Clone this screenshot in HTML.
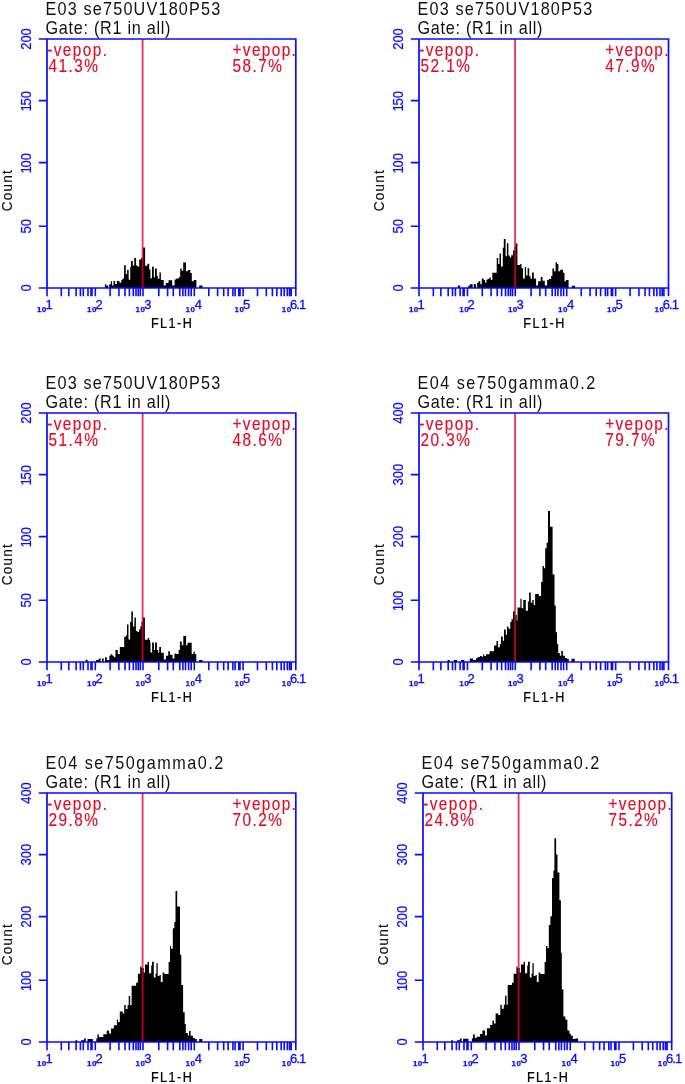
<!DOCTYPE html>
<html><head><meta charset="utf-8"><title>FL1-H histograms</title>
<style>
html,body{margin:0;padding:0;background:#fff;width:685px;height:1084px;overflow:hidden}
svg{display:block}
text{font-family:'Liberation Sans', sans-serif}
.t{font-size:18px;fill:#111}
.r{font-size:17.5px;fill:#e00a2a;stroke:#e00a2a;stroke-width:0.15px}
.yl{font-size:14px;fill:#0a0aff;stroke:#0a0aff;stroke-width:0.2px}
.xs{font-size:8px;font-weight:bold;fill:#0a0aff;stroke:#0a0aff;stroke-width:0.25px;letter-spacing:0.5px}
.xe{font-size:13px;fill:#0a0aff;stroke:#0a0aff;stroke-width:0.3px}
.xt{font-size:14px;fill:#000;stroke:#000;stroke-width:0.25px}
.ct{font-size:15px;fill:#111;stroke:#111;stroke-width:0.15px}
</style></head>
<body>
<svg width="685" height="1084" viewBox="0 0 685 1084">
<rect width="685" height="1084" fill="#fff"/>
<text transform="translate(45.5,14.9) scale(0.9,1)" class="t" letter-spacing="1.32">E03 se750UV180P53</text>
<text transform="translate(45.5,33.7) scale(0.9,1)" class="t" letter-spacing="0.81">Gate: (R1 in all)</text>
<path d="M104.9,288V284.3H106.2V285.5H108.2V288ZM109.2,288V284.3H110.8V281.3H112.1V285.4H113.6V281H115.1V284.1H116.9V281H119.5V282.8H121.3V280H122.5V278.5H124.1V265.2H125.8V274.1H127.1V269.8H128.7V279.7H130.2V267.1H131V261H132.8V265.5H134.3V258.1H136.1V265.5H137.4V266.6H139.2V259.4H141V257.9H143V247.4H145.1V265.8H147.4V263.8H149.2V269.6H150.4V278.3H152V266.8H153.8V277.3H155V268.4H156.8V275.8H157.8V278.8H159.4V272.4H160.9V279.9H163.7V285.6H165.8V283.1H168.5V280.3H172.2V285.6H174.6V279.4H176.2V278.5H178.9V277H180.2V268.4H181.7V270.8H183.2V262.6H186V271.2H187.8V269.9H190.3V273H191.8V281.3H193.7V280H196.4V288ZM199.2,288V285.6H202.5V288Z" fill="#000"/>
<line x1="142.6" y1="39" x2="142.6" y2="288.0" stroke="#eb0028" stroke-opacity="0.78" stroke-width="1.9"/>
<path d="M47,39H295.8V288.0H47Z" fill="none" stroke="#0a0aff" stroke-width="1.7"/>
<text transform="translate(31.4,288.0) rotate(-90) scale(0.93,1)" x="0" class="yl" text-anchor="middle">0</text>
<text transform="translate(31.4,226.3) rotate(-90) scale(0.93,1)" x="0" class="yl" text-anchor="middle">50</text>
<text transform="translate(31.4,162.6) rotate(-90) scale(0.93,1)" x="-0.65" class="yl" text-anchor="middle">1<tspan dx="-1.3">00</tspan></text>
<text transform="translate(31.4,100.6) rotate(-90) scale(0.93,1)" x="-0.65" class="yl" text-anchor="middle">1<tspan dx="-1.3">50</tspan></text>
<text transform="translate(31.4,39.0) rotate(-90) scale(0.93,1)" x="0" class="yl" text-anchor="middle">200</text>
<path d="M38.8,288.0H47M38.8,226.3H47M38.8,162.6H47M38.8,100.6H47M38.8,39.0H47M47.00,288.0V296.2M61.30,288.0V296.2M68.80,288.0V296.2M76.10,288.0V296.2M80.40,288.0V296.2M83.30,288.0V296.2M88.00,288.0V296.2M91.00,288.0V296.2M92.00,288.0V296.2M95.30,288.0V296.2M110.10,288.0V296.2M118.90,288.0V296.2M125.00,288.0V296.2M129.40,288.0V296.2M133.30,288.0V296.2M136.00,288.0V296.2M138.20,288.0V296.2M140.30,288.0V296.2M143.00,288.0V296.2M158.80,288.0V296.2M167.60,288.0V296.2M173.30,288.0V296.2M179.80,288.0V296.2M182.90,288.0V296.2M185.50,288.0V296.2M188.60,288.0V296.2M191.20,288.0V296.2M194.30,288.0V296.2M208.80,288.0V296.2M217.60,288.0V296.2M223.70,288.0V296.2M228.10,288.0V296.2M232.90,288.0V296.2M235.10,288.0V296.2M238.80,288.0V296.2M240.00,288.0V296.2M243.10,288.0V296.2M257.50,288.0V296.2M266.30,288.0V296.2M272.40,288.0V296.2M276.80,288.0V296.2M281.20,288.0V296.2M284.20,288.0V296.2M287.30,288.0V296.2M289.50,288.0V296.2M291.20,288.0V296.2M295.8,288.0V296.2" fill="none" stroke="#0a0aff" stroke-width="1.6"/>
<text x="46.8" y="312.2" class="xs" text-anchor="end">10</text>
<text x="45.6" y="308.9" class="xe">1</text>
<text x="97.0" y="312.2" class="xs" text-anchor="end">10</text>
<text x="95.5" y="308.9" class="xe">2</text>
<text x="145.5" y="312.2" class="xs" text-anchor="end">10</text>
<text x="144.3" y="308.9" class="xe">3</text>
<text x="195.5" y="312.2" class="xs" text-anchor="end">10</text>
<text x="194.7" y="308.9" class="xe">4</text>
<text x="244.4" y="312.2" class="xs" text-anchor="end">10</text>
<text x="243.0" y="308.9" class="xe">5</text>
<text x="291.7" y="312.2" class="xs" text-anchor="end">10</text>
<text x="290.0" y="308.9" class="xe" letter-spacing="-0.9">6.1</text>
<text transform="translate(171.4,328.2) scale(0.9,1)" x="0.84" class="xt" text-anchor="middle" letter-spacing="1.68">FL1-H</text>
<text transform="translate(12.299999999999997,190.8) rotate(-90) scale(0.9,1)" x="0.7" class="ct" text-anchor="middle" letter-spacing="1.4">Count</text>
<text transform="translate(47.20,55.5) scale(0.88,1)" class="r" letter-spacing="1.6">-vepop.</text>
<text transform="translate(48.50,72.0) scale(0.88,1)" class="r" letter-spacing="1.64">41.3%</text>
<text transform="translate(232.50,55.5) scale(0.88,1)" class="r" letter-spacing="1.55">+vepop.</text>
<text transform="translate(232.50,72.0) scale(0.88,1)" class="r" letter-spacing="1.64">58.7%</text>
<text transform="translate(417.5,14.9) scale(0.9,1)" class="t" letter-spacing="1.32">E03 se750UV180P53</text>
<text transform="translate(417.5,33.7) scale(0.9,1)" class="t" letter-spacing="0.81">Gate: (R1 in all)</text>
<path d="M457.8,288V285.6H460.1V288ZM468.3,288V285.8H469.8V284.3H472.6V288ZM473.7,288V284.3H476V288ZM477.2,288V282.8H478.5V281.2H480.3V284.3H481.8V278.4H483.6V280H485.1V282.8H486.4V279.5H488V279H489.3V277.4H490.8V280H492.3V272.8H496.7V258H498.2V264.1H499.5V253.4H501V266.4H502.8V247.8H503.8V239.1H505.6V256.2H506.9V243.2H508.4V255.4H509.7V257.5H511.2V255.2H513V250.6H514.5V247H515.6V243.4H517.4V265.1H520.2V264.1H521.5V268.2H523V278.4H524.8V266.9H526.1V275.6H527.6V268.2H529.2V275.9H530.5V278.7H532V272.6H533.8V278.4H536.1V285.6H538.1V281.2H540.7V276.9H542.5V280.7H544.8V285.6H547.1V280H548.8V279H551.1V275.9H552.4V268.5H554V271.3H555.6V262.3H557.1V264.1H558.4V271.3H560.2V269.7H563V272.8H564.5V281.2H566V280H568.6V288ZM571.9,288V285.8H575V288Z" fill="#000"/>
<line x1="515.1" y1="39" x2="515.1" y2="288.0" stroke="#eb0028" stroke-opacity="0.78" stroke-width="1.9"/>
<path d="M419,39H668.5V288.0H419Z" fill="none" stroke="#0a0aff" stroke-width="1.7"/>
<text transform="translate(403.4,288.0) rotate(-90) scale(0.93,1)" x="0" class="yl" text-anchor="middle">0</text>
<text transform="translate(403.4,226.3) rotate(-90) scale(0.93,1)" x="0" class="yl" text-anchor="middle">50</text>
<text transform="translate(403.4,162.6) rotate(-90) scale(0.93,1)" x="-0.65" class="yl" text-anchor="middle">1<tspan dx="-1.3">00</tspan></text>
<text transform="translate(403.4,100.6) rotate(-90) scale(0.93,1)" x="-0.65" class="yl" text-anchor="middle">1<tspan dx="-1.3">50</tspan></text>
<text transform="translate(403.4,39.0) rotate(-90) scale(0.93,1)" x="0" class="yl" text-anchor="middle">200</text>
<path d="M410.8,288.0H419M410.8,226.3H419M410.8,162.6H419M410.8,100.6H419M410.8,39.0H419M419.00,288.0V296.2M433.34,288.0V296.2M440.86,288.0V296.2M448.18,288.0V296.2M452.49,288.0V296.2M455.40,288.0V296.2M460.12,288.0V296.2M463.12,288.0V296.2M464.13,288.0V296.2M467.44,288.0V296.2M482.28,288.0V296.2M491.10,288.0V296.2M497.22,288.0V296.2M501.63,288.0V296.2M505.54,288.0V296.2M508.25,288.0V296.2M510.46,288.0V296.2M512.56,288.0V296.2M515.27,288.0V296.2M531.11,288.0V296.2M539.94,288.0V296.2M545.66,288.0V296.2M552.17,288.0V296.2M555.28,288.0V296.2M557.89,288.0V296.2M561.00,288.0V296.2M563.61,288.0V296.2M566.71,288.0V296.2M581.26,288.0V296.2M590.08,288.0V296.2M596.20,288.0V296.2M600.61,288.0V296.2M605.42,288.0V296.2M607.63,288.0V296.2M611.34,288.0V296.2M612.54,288.0V296.2M615.65,288.0V296.2M630.09,288.0V296.2M638.92,288.0V296.2M645.03,288.0V296.2M649.45,288.0V296.2M653.86,288.0V296.2M656.87,288.0V296.2M659.98,288.0V296.2M662.18,288.0V296.2M663.89,288.0V296.2M668.5,288.0V296.2" fill="none" stroke="#0a0aff" stroke-width="1.6"/>
<text x="418.8" y="312.2" class="xs" text-anchor="end">10</text>
<text x="417.6" y="308.9" class="xe">1</text>
<text x="469.1" y="312.2" class="xs" text-anchor="end">10</text>
<text x="467.6" y="308.9" class="xe">2</text>
<text x="517.8" y="312.2" class="xs" text-anchor="end">10</text>
<text x="516.6" y="308.9" class="xe">3</text>
<text x="567.9" y="312.2" class="xs" text-anchor="end">10</text>
<text x="567.1" y="308.9" class="xe">4</text>
<text x="617.0" y="312.2" class="xs" text-anchor="end">10</text>
<text x="615.6" y="308.9" class="xe">5</text>
<text x="664.4" y="312.2" class="xs" text-anchor="end">10</text>
<text x="662.7" y="308.9" class="xe" letter-spacing="-0.9">6.1</text>
<text transform="translate(543.8,328.2) scale(0.9,1)" x="0.84" class="xt" text-anchor="middle" letter-spacing="1.68">FL1-H</text>
<text transform="translate(384.3,190.8) rotate(-90) scale(0.9,1)" x="0.7" class="ct" text-anchor="middle" letter-spacing="1.4">Count</text>
<text transform="translate(419.20,55.5) scale(0.88,1)" class="r" letter-spacing="1.6">-vepop.</text>
<text transform="translate(420.50,72.0) scale(0.88,1)" class="r" letter-spacing="1.64">52.1%</text>
<text transform="translate(605.20,55.5) scale(0.88,1)" class="r" letter-spacing="1.55">+vepop.</text>
<text transform="translate(605.20,72.0) scale(0.88,1)" class="r" letter-spacing="1.64">47.9%</text>
<text transform="translate(45.5,388.9) scale(0.9,1)" class="t" letter-spacing="1.32">E03 se750UV180P53</text>
<text transform="translate(45.5,407.7) scale(0.9,1)" class="t" letter-spacing="0.81">Gate: (R1 in all)</text>
<path d="M85.6,662V659.8H87.6V662ZM96,662V660H98.8V658.6H100.6V662ZM101.9,662V658.6H103.7V662ZM105,662V657.3H106.8V660.1H109.3V655.8H110.6V654.2H112.4V655.8H113.9V657.3H115.4V649.9H116V650.1H117.8V654H119.8V647.1H124.2V636.8H126.2V635H127V624.6H128.5V639.4H130.1V622H131.3V611.6H132.9V626.4H134.4V617.4H135.9V631H137.5V632H139V629.4H140.3V626.4H141.5V622H142.8V617.4H144.9V639.7H147.7V638.1H149.2V640H150V642.2H150.5V652.4H152.1V642.5H153.9V649.9H155.1V642.5H156.9V650.1H158.2V652.7H159.2V647.1H161V652.7H163.8V659.6H165.9V655.8H168.2V651.2H169.9V654.7H172.5V658.6H174.5V653.5H176.6V654H178.6V649.9H179.9V641.4H181.7V645.3H182V645.3H183.3V636.1H186.1V645.3H187.6V642.7H191.7V654H193.5V651.4H194.8V654H196.3V662ZM199.1,662V660.1H202.5V662Z" fill="#000"/>
<line x1="142.6" y1="413" x2="142.6" y2="662.0" stroke="#eb0028" stroke-opacity="0.78" stroke-width="1.9"/>
<path d="M47,413H295.8V662.0H47Z" fill="none" stroke="#0a0aff" stroke-width="1.7"/>
<text transform="translate(31.4,662.0) rotate(-90) scale(0.93,1)" x="0" class="yl" text-anchor="middle">0</text>
<text transform="translate(31.4,600.3) rotate(-90) scale(0.93,1)" x="0" class="yl" text-anchor="middle">50</text>
<text transform="translate(31.4,536.6) rotate(-90) scale(0.93,1)" x="-0.65" class="yl" text-anchor="middle">1<tspan dx="-1.3">00</tspan></text>
<text transform="translate(31.4,474.6) rotate(-90) scale(0.93,1)" x="-0.65" class="yl" text-anchor="middle">1<tspan dx="-1.3">50</tspan></text>
<text transform="translate(31.4,413.0) rotate(-90) scale(0.93,1)" x="0" class="yl" text-anchor="middle">200</text>
<path d="M38.8,662.0H47M38.8,600.3H47M38.8,536.6H47M38.8,474.6H47M38.8,413.0H47M47.00,662.0V670.2M61.30,662.0V670.2M68.80,662.0V670.2M76.10,662.0V670.2M80.40,662.0V670.2M83.30,662.0V670.2M88.00,662.0V670.2M91.00,662.0V670.2M92.00,662.0V670.2M95.30,662.0V670.2M110.10,662.0V670.2M118.90,662.0V670.2M125.00,662.0V670.2M129.40,662.0V670.2M133.30,662.0V670.2M136.00,662.0V670.2M138.20,662.0V670.2M140.30,662.0V670.2M143.00,662.0V670.2M158.80,662.0V670.2M167.60,662.0V670.2M173.30,662.0V670.2M179.80,662.0V670.2M182.90,662.0V670.2M185.50,662.0V670.2M188.60,662.0V670.2M191.20,662.0V670.2M194.30,662.0V670.2M208.80,662.0V670.2M217.60,662.0V670.2M223.70,662.0V670.2M228.10,662.0V670.2M232.90,662.0V670.2M235.10,662.0V670.2M238.80,662.0V670.2M240.00,662.0V670.2M243.10,662.0V670.2M257.50,662.0V670.2M266.30,662.0V670.2M272.40,662.0V670.2M276.80,662.0V670.2M281.20,662.0V670.2M284.20,662.0V670.2M287.30,662.0V670.2M289.50,662.0V670.2M291.20,662.0V670.2M295.8,662.0V670.2" fill="none" stroke="#0a0aff" stroke-width="1.6"/>
<text x="46.8" y="686.2" class="xs" text-anchor="end">10</text>
<text x="45.6" y="682.9" class="xe">1</text>
<text x="97.0" y="686.2" class="xs" text-anchor="end">10</text>
<text x="95.5" y="682.9" class="xe">2</text>
<text x="145.5" y="686.2" class="xs" text-anchor="end">10</text>
<text x="144.3" y="682.9" class="xe">3</text>
<text x="195.5" y="686.2" class="xs" text-anchor="end">10</text>
<text x="194.7" y="682.9" class="xe">4</text>
<text x="244.4" y="686.2" class="xs" text-anchor="end">10</text>
<text x="243.0" y="682.9" class="xe">5</text>
<text x="291.7" y="686.2" class="xs" text-anchor="end">10</text>
<text x="290.0" y="682.9" class="xe" letter-spacing="-0.9">6.1</text>
<text transform="translate(171.4,702.2) scale(0.9,1)" x="0.84" class="xt" text-anchor="middle" letter-spacing="1.68">FL1-H</text>
<text transform="translate(12.299999999999997,564.8) rotate(-90) scale(0.9,1)" x="0.7" class="ct" text-anchor="middle" letter-spacing="1.4">Count</text>
<text transform="translate(47.20,429.5) scale(0.88,1)" class="r" letter-spacing="1.6">-vepop.</text>
<text transform="translate(48.50,446.0) scale(0.88,1)" class="r" letter-spacing="1.64">51.4%</text>
<text transform="translate(232.50,429.5) scale(0.88,1)" class="r" letter-spacing="1.55">+vepop.</text>
<text transform="translate(232.50,446.0) scale(0.88,1)" class="r" letter-spacing="1.64">48.6%</text>
<text transform="translate(417.5,388.9) scale(0.9,1)" class="t" letter-spacing="1.66">E04 se750gamma0.2</text>
<text transform="translate(417.5,407.7) scale(0.9,1)" class="t" letter-spacing="0.81">Gate: (R1 in all)</text>
<path d="M447.6,662V660H449.7V662ZM453.8,662V660H457V662ZM461,662V660H464.3V662ZM469.8,662V658.6H473V660H476V658.3H477.7V657.1H480V656H481.8V656.8H483.2V654.2H484.2V656H486V654.2H489.6V651.2H494.1V645.5H496.5V641H498V647.3H499.8V644H501V636.6H502.8V640.8H504V629.4H505.8V634.8H507V626.4H508.5V628.8H510.3V621.9H511.5V619.2H513V611.4H515V615H516.7V620.3H517.5V607.4H520.4V598.7H521.6V608.2H523.3V599.9H525.8V610.7H527.9V601.6H529.1V592.4H530.8V602.8H532.3V600H533.7V605.1H535.1V594H538.8V595.9H541.1V582H542.5V565.9H543.9V568.2H545.2V548.3H546.6V542.8H548V511.1H550V526.8H552.6V574.6H554.5V605.5H555.8V632.2H557V643.9H558.2V652.9H559.8V655.7H561.3V651H562.9V655.7H564.9V658H566.8V658.8H568.8V662ZM571.5,662V658.8H574.7V662Z" fill="#000"/>
<line x1="515.1" y1="413" x2="515.1" y2="662.0" stroke="#eb0028" stroke-opacity="0.78" stroke-width="1.9"/>
<path d="M419,413H668.5V662.0H419Z" fill="none" stroke="#0a0aff" stroke-width="1.7"/>
<text transform="translate(403.4,662.0) rotate(-90) scale(0.93,1)" x="0" class="yl" text-anchor="middle">0</text>
<text transform="translate(403.4,600.3) rotate(-90) scale(0.93,1)" x="-0.65" class="yl" text-anchor="middle">1<tspan dx="-1.3">00</tspan></text>
<text transform="translate(403.4,536.6) rotate(-90) scale(0.93,1)" x="0" class="yl" text-anchor="middle">200</text>
<text transform="translate(403.4,474.6) rotate(-90) scale(0.93,1)" x="0" class="yl" text-anchor="middle">300</text>
<text transform="translate(403.4,413.0) rotate(-90) scale(0.93,1)" x="0" class="yl" text-anchor="middle">400</text>
<path d="M410.8,662.0H419M410.8,600.3H419M410.8,536.6H419M410.8,474.6H419M410.8,413.0H419M419.00,662.0V670.2M433.34,662.0V670.2M440.86,662.0V670.2M448.18,662.0V670.2M452.49,662.0V670.2M455.40,662.0V670.2M460.12,662.0V670.2M463.12,662.0V670.2M464.13,662.0V670.2M467.44,662.0V670.2M482.28,662.0V670.2M491.10,662.0V670.2M497.22,662.0V670.2M501.63,662.0V670.2M505.54,662.0V670.2M508.25,662.0V670.2M510.46,662.0V670.2M512.56,662.0V670.2M515.27,662.0V670.2M531.11,662.0V670.2M539.94,662.0V670.2M545.66,662.0V670.2M552.17,662.0V670.2M555.28,662.0V670.2M557.89,662.0V670.2M561.00,662.0V670.2M563.61,662.0V670.2M566.71,662.0V670.2M581.26,662.0V670.2M590.08,662.0V670.2M596.20,662.0V670.2M600.61,662.0V670.2M605.42,662.0V670.2M607.63,662.0V670.2M611.34,662.0V670.2M612.54,662.0V670.2M615.65,662.0V670.2M630.09,662.0V670.2M638.92,662.0V670.2M645.03,662.0V670.2M649.45,662.0V670.2M653.86,662.0V670.2M656.87,662.0V670.2M659.98,662.0V670.2M662.18,662.0V670.2M663.89,662.0V670.2M668.5,662.0V670.2" fill="none" stroke="#0a0aff" stroke-width="1.6"/>
<text x="418.8" y="686.2" class="xs" text-anchor="end">10</text>
<text x="417.6" y="682.9" class="xe">1</text>
<text x="469.1" y="686.2" class="xs" text-anchor="end">10</text>
<text x="467.6" y="682.9" class="xe">2</text>
<text x="517.8" y="686.2" class="xs" text-anchor="end">10</text>
<text x="516.6" y="682.9" class="xe">3</text>
<text x="567.9" y="686.2" class="xs" text-anchor="end">10</text>
<text x="567.1" y="682.9" class="xe">4</text>
<text x="617.0" y="686.2" class="xs" text-anchor="end">10</text>
<text x="615.6" y="682.9" class="xe">5</text>
<text x="664.4" y="686.2" class="xs" text-anchor="end">10</text>
<text x="662.7" y="682.9" class="xe" letter-spacing="-0.9">6.1</text>
<text transform="translate(543.8,702.2) scale(0.9,1)" x="0.84" class="xt" text-anchor="middle" letter-spacing="1.68">FL1-H</text>
<text transform="translate(384.3,564.8) rotate(-90) scale(0.9,1)" x="0.7" class="ct" text-anchor="middle" letter-spacing="1.4">Count</text>
<text transform="translate(419.20,429.5) scale(0.88,1)" class="r" letter-spacing="1.6">-vepop.</text>
<text transform="translate(420.50,446.0) scale(0.88,1)" class="r" letter-spacing="1.64">20.3%</text>
<text transform="translate(605.20,429.5) scale(0.88,1)" class="r" letter-spacing="1.55">+vepop.</text>
<text transform="translate(605.20,446.0) scale(0.88,1)" class="r" letter-spacing="1.64">79.7%</text>
<text transform="translate(45.5,768.9) scale(0.9,1)" class="t" letter-spacing="1.66">E04 se750gamma0.2</text>
<text transform="translate(45.5,787.7) scale(0.9,1)" class="t" letter-spacing="0.81">Gate: (R1 in all)</text>
<path d="M75.3,1042V1040.3H77.3V1042ZM81.1,1042V1040.3H84V1038.5H85.8V1042ZM87.5,1042V1039H92.8V1042ZM96.3,1042V1038.5H97.4V1034.5H98.9V1037.1H103.3V1034.2H106.8V1030.4H108.8V1031H109.1V1033.6H111V1028.5H113.9V1025.2H116.9V1019.6H118V1021.9H119.8V1011.5H122.8V1013.4H124.2V1004.9H125.7V1008.9H127.6V1004.9H128.7V996H130.2V1004.9H131.6V985.7H136.1V982.7H137.9V973.8H140.2V966.6H141.5V968H143.7V972.4H145V964.5H147.6V961.8H149V973.2H151.2V965.4H152V961.8H153.8V977.6H155.5V973.7H156.4V963.2H157.7V975.9H159.5V975H160.8V982H162.6V972.4H164.3V974.1H168.6V962H170V945.9H171.1V948.7H172.8V928.2H174.4V922.1H175.5V891.1H177.2V906.6H180V954.8H181.3V985.1H183.1V1012.2H184.7V1024H185.8V1033H187.8V1035.4H189V1031H190.6V1035.7H192.9V1038.1H194.9V1038.9H196.8V1042ZM199.2,1042V1038.9H202.3V1042Z" fill="#000"/>
<line x1="142.6" y1="793" x2="142.6" y2="1042.0" stroke="#eb0028" stroke-opacity="0.78" stroke-width="1.9"/>
<path d="M47,793H295.8V1042.0H47Z" fill="none" stroke="#0a0aff" stroke-width="1.7"/>
<text transform="translate(31.4,1042.0) rotate(-90) scale(0.93,1)" x="0" class="yl" text-anchor="middle">0</text>
<text transform="translate(31.4,980.3) rotate(-90) scale(0.93,1)" x="-0.65" class="yl" text-anchor="middle">1<tspan dx="-1.3">00</tspan></text>
<text transform="translate(31.4,916.6) rotate(-90) scale(0.93,1)" x="0" class="yl" text-anchor="middle">200</text>
<text transform="translate(31.4,854.6) rotate(-90) scale(0.93,1)" x="0" class="yl" text-anchor="middle">300</text>
<text transform="translate(31.4,793.0) rotate(-90) scale(0.93,1)" x="0" class="yl" text-anchor="middle">400</text>
<path d="M38.8,1042.0H47M38.8,980.3H47M38.8,916.6H47M38.8,854.6H47M38.8,793.0H47M47.00,1042.0V1050.2M61.30,1042.0V1050.2M68.80,1042.0V1050.2M76.10,1042.0V1050.2M80.40,1042.0V1050.2M83.30,1042.0V1050.2M88.00,1042.0V1050.2M91.00,1042.0V1050.2M92.00,1042.0V1050.2M95.30,1042.0V1050.2M110.10,1042.0V1050.2M118.90,1042.0V1050.2M125.00,1042.0V1050.2M129.40,1042.0V1050.2M133.30,1042.0V1050.2M136.00,1042.0V1050.2M138.20,1042.0V1050.2M140.30,1042.0V1050.2M143.00,1042.0V1050.2M158.80,1042.0V1050.2M167.60,1042.0V1050.2M173.30,1042.0V1050.2M179.80,1042.0V1050.2M182.90,1042.0V1050.2M185.50,1042.0V1050.2M188.60,1042.0V1050.2M191.20,1042.0V1050.2M194.30,1042.0V1050.2M208.80,1042.0V1050.2M217.60,1042.0V1050.2M223.70,1042.0V1050.2M228.10,1042.0V1050.2M232.90,1042.0V1050.2M235.10,1042.0V1050.2M238.80,1042.0V1050.2M240.00,1042.0V1050.2M243.10,1042.0V1050.2M257.50,1042.0V1050.2M266.30,1042.0V1050.2M272.40,1042.0V1050.2M276.80,1042.0V1050.2M281.20,1042.0V1050.2M284.20,1042.0V1050.2M287.30,1042.0V1050.2M289.50,1042.0V1050.2M291.20,1042.0V1050.2M295.8,1042.0V1050.2" fill="none" stroke="#0a0aff" stroke-width="1.6"/>
<text x="46.8" y="1066.2" class="xs" text-anchor="end">10</text>
<text x="45.6" y="1062.9" class="xe">1</text>
<text x="97.0" y="1066.2" class="xs" text-anchor="end">10</text>
<text x="95.5" y="1062.9" class="xe">2</text>
<text x="145.5" y="1066.2" class="xs" text-anchor="end">10</text>
<text x="144.3" y="1062.9" class="xe">3</text>
<text x="195.5" y="1066.2" class="xs" text-anchor="end">10</text>
<text x="194.7" y="1062.9" class="xe">4</text>
<text x="244.4" y="1066.2" class="xs" text-anchor="end">10</text>
<text x="243.0" y="1062.9" class="xe">5</text>
<text x="291.7" y="1066.2" class="xs" text-anchor="end">10</text>
<text x="290.0" y="1062.9" class="xe" letter-spacing="-0.9">6.1</text>
<text transform="translate(171.4,1082.2) scale(0.9,1)" x="0.84" class="xt" text-anchor="middle" letter-spacing="1.68">FL1-H</text>
<text transform="translate(12.299999999999997,944.8) rotate(-90) scale(0.9,1)" x="0.7" class="ct" text-anchor="middle" letter-spacing="1.4">Count</text>
<text transform="translate(47.20,809.5) scale(0.88,1)" class="r" letter-spacing="1.6">-vepop.</text>
<text transform="translate(48.50,826.0) scale(0.88,1)" class="r" letter-spacing="1.64">29.8%</text>
<text transform="translate(232.50,809.5) scale(0.88,1)" class="r" letter-spacing="1.55">+vepop.</text>
<text transform="translate(232.50,826.0) scale(0.88,1)" class="r" letter-spacing="1.64">70.2%</text>
<text transform="translate(421.5,768.9) scale(0.9,1)" class="t" letter-spacing="1.66">E04 se750gamma0.2</text>
<text transform="translate(421.5,787.7) scale(0.9,1)" class="t" letter-spacing="0.81">Gate: (R1 in all)</text>
<path d="M451.1,1042V1040.3H452.9V1042ZM457,1042V1040.3H459.9V1038.5H461.6V1042ZM463.1,1042V1038.8H468.4V1042ZM471.9,1042V1038.5H473V1034.5H474.8V1038H476.5V1036.8H480V1033.9H482.4V1030.5H485V1035.4H486.9V1028.3H490.1V1025.1H492.4V1020.8H494V1023.6H495.6V1013.4H498.3V1014.9H500.3V1004.7H501.8V1008.7H503.8V1004.7H505V995.7H506.5V1004.7H507.7V985.1H512V982.8H513.6V973.7H516.4V966.4H517.5V968H519.7V972.4H521V964.5H523.6V961.8H525V973.2H527.2V965.4H528V961.8H529.8V977.6H531.5V973.7H532.4V963.2H533.7V975.9H535.5V975H536.8V982H538.6V972.4H540.3V974.1H544.6V962H546V946.1H547.4V948.2H548.8V925H550.4V916.2H552V878H553.4V870.6H554.4V838.3H556.1V854.5H557.5V872.5H559.4V900.2H560.9V952.8H561.8V989.6H563.4V1016.4H565.4V1019.7H567.4V1030.4H569.4V1033.8H570.8V1035.8H572.8V1039H575.5V1038.5H578.1V1042Z" fill="#000"/>
<line x1="518.6" y1="793" x2="518.6" y2="1042.0" stroke="#eb0028" stroke-opacity="0.78" stroke-width="1.9"/>
<path d="M423,793H671.7V1042.0H423Z" fill="none" stroke="#0a0aff" stroke-width="1.7"/>
<text transform="translate(407.4,1042.0) rotate(-90) scale(0.93,1)" x="0" class="yl" text-anchor="middle">0</text>
<text transform="translate(407.4,980.3) rotate(-90) scale(0.93,1)" x="-0.65" class="yl" text-anchor="middle">1<tspan dx="-1.3">00</tspan></text>
<text transform="translate(407.4,916.6) rotate(-90) scale(0.93,1)" x="0" class="yl" text-anchor="middle">200</text>
<text transform="translate(407.4,854.6) rotate(-90) scale(0.93,1)" x="0" class="yl" text-anchor="middle">300</text>
<text transform="translate(407.4,793.0) rotate(-90) scale(0.93,1)" x="0" class="yl" text-anchor="middle">400</text>
<path d="M414.8,1042.0H423M414.8,980.3H423M414.8,916.6H423M414.8,854.6H423M414.8,793.0H423M423.00,1042.0V1050.2M437.29,1042.0V1050.2M444.79,1042.0V1050.2M452.09,1042.0V1050.2M456.39,1042.0V1050.2M459.29,1042.0V1050.2M463.98,1042.0V1050.2M466.98,1042.0V1050.2M467.98,1042.0V1050.2M471.28,1042.0V1050.2M486.07,1042.0V1050.2M494.87,1042.0V1050.2M500.97,1042.0V1050.2M505.37,1042.0V1050.2M509.27,1042.0V1050.2M511.96,1042.0V1050.2M514.16,1042.0V1050.2M516.26,1042.0V1050.2M518.96,1042.0V1050.2M534.76,1042.0V1050.2M543.55,1042.0V1050.2M549.25,1042.0V1050.2M555.75,1042.0V1050.2M558.85,1042.0V1050.2M561.44,1042.0V1050.2M564.54,1042.0V1050.2M567.14,1042.0V1050.2M570.24,1042.0V1050.2M584.73,1042.0V1050.2M593.53,1042.0V1050.2M599.63,1042.0V1050.2M604.03,1042.0V1050.2M608.83,1042.0V1050.2M611.02,1042.0V1050.2M614.72,1042.0V1050.2M615.92,1042.0V1050.2M619.02,1042.0V1050.2M633.42,1042.0V1050.2M642.21,1042.0V1050.2M648.31,1042.0V1050.2M652.71,1042.0V1050.2M657.11,1042.0V1050.2M660.10,1042.0V1050.2M663.20,1042.0V1050.2M665.40,1042.0V1050.2M667.10,1042.0V1050.2M671.7,1042.0V1050.2" fill="none" stroke="#0a0aff" stroke-width="1.6"/>
<text x="422.8" y="1066.2" class="xs" text-anchor="end">10</text>
<text x="421.6" y="1062.9" class="xe">1</text>
<text x="473.0" y="1066.2" class="xs" text-anchor="end">10</text>
<text x="471.4" y="1062.9" class="xe">2</text>
<text x="521.5" y="1066.2" class="xs" text-anchor="end">10</text>
<text x="520.3" y="1062.9" class="xe">3</text>
<text x="571.4" y="1066.2" class="xs" text-anchor="end">10</text>
<text x="570.6" y="1062.9" class="xe">4</text>
<text x="620.3" y="1066.2" class="xs" text-anchor="end">10</text>
<text x="618.9" y="1062.9" class="xe">5</text>
<text x="667.6" y="1066.2" class="xs" text-anchor="end">10</text>
<text x="665.9" y="1062.9" class="xe" letter-spacing="-0.9">6.1</text>
<text transform="translate(547.4,1082.2) scale(0.9,1)" x="0.84" class="xt" text-anchor="middle" letter-spacing="1.68">FL1-H</text>
<text transform="translate(388.3,944.8) rotate(-90) scale(0.9,1)" x="0.7" class="ct" text-anchor="middle" letter-spacing="1.4">Count</text>
<text transform="translate(423.20,809.5) scale(0.88,1)" class="r" letter-spacing="1.6">-vepop.</text>
<text transform="translate(424.50,826.0) scale(0.88,1)" class="r" letter-spacing="1.64">24.8%</text>
<text transform="translate(608.40,809.5) scale(0.88,1)" class="r" letter-spacing="1.55">+vepop.</text>
<text transform="translate(608.40,826.0) scale(0.88,1)" class="r" letter-spacing="1.64">75.2%</text>
</svg>
</body></html>
